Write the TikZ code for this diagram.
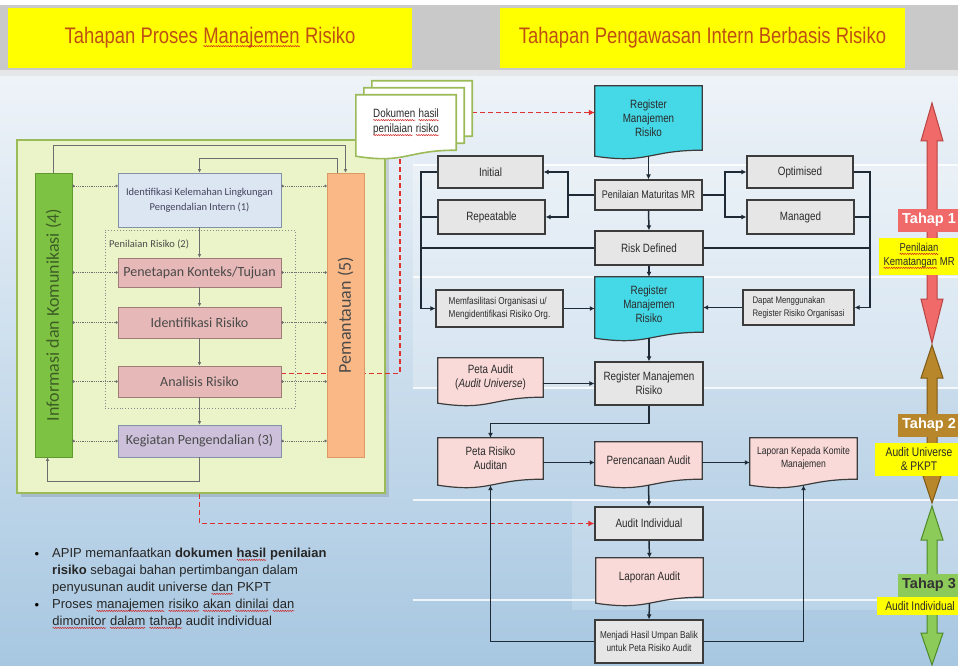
\documentclass[tikz,border=0pt]{standalone}
\usepackage{fontspec}
\setmainfont{Liberation Sans}
\newfontfamily\narrowf[FakeStretch=0.82]{Liberation Sans}
\newfontfamily\calib{Carlito}
\usetikzlibrary{arrows.meta,calc,decorations.pathmorphing}
\pgfdeclarelayer{bg}\pgfdeclarelayer{mid}\pgfsetlayers{bg,mid,main}
\definecolor{hdrgray}{HTML}{C9C9C9}
\definecolor{hdrlight}{HTML}{E4E6E8}
\definecolor{hdrtxt}{RGB}{190,80,20}
\definecolor{yel}{HTML}{FFFF00}
\definecolor{bgtop}{HTML}{EEF3F8}
\definecolor{bgbot}{HTML}{A7C7E1}
\definecolor{panelfill}{HTML}{EAF4C8}
\definecolor{panelline}{HTML}{9BBB59}
\definecolor{infofill}{HTML}{7DC243}
\definecolor{infoline}{HTML}{5E9A2E}
\definecolor{infotxt}{HTML}{3E5E26}
\definecolor{orfill}{HTML}{FAB887}
\definecolor{orline}{HTML}{DE9866}
\definecolor{bluefill}{HTML}{DCE6F2}
\definecolor{blueline}{HTML}{8391A6}
\definecolor{pinkL}{HTML}{E6B8B7}
\definecolor{pinkLline}{HTML}{9E7C7A}
\definecolor{purpfill}{HTML}{CCC0DA}
\definecolor{lgray}{HTML}{6E6E6E}
\definecolor{ltxt}{HTML}{4A4A4A}
\definecolor{cyanfill}{HTML}{45D8E6}
\definecolor{boxgray}{HTML}{E6E6E6}
\definecolor{boxline}{HTML}{3C3C3C}
\definecolor{pinkR}{HTML}{F9DAD8}
\definecolor{conc}{HTML}{1E2A36}
\definecolor{rdash}{HTML}{E03030}
\definecolor{redA}{HTML}{F06A6A}
\definecolor{redB}{HTML}{B84444}
\definecolor{brownA}{HTML}{B8862B}
\definecolor{brownB}{HTML}{7E5A18}
\definecolor{greenA}{HTML}{8CCB5A}
\definecolor{greenB}{HTML}{4E8A2A}
\definecolor{rtxt}{HTML}{2A2A2A}
\definecolor{squig}{HTML}{D02020}
\newcommand\docshape[2]{%
 \path[#2] let \p1=(#1.south west), \p2=(#1.north east) in
 (\x1,\y2) -- (\x2,\y2) -- (\x2,\y1) .. controls ({(\x1+\x2)/2},\y1) and ({(\x1+\x2)/2},\y1-14pt) .. (\x1,\y1-6pt) -- cycle;}
\newcommand\sq[1]{\tikz[baseline=(sqw.base)]{\node[inner sep=0pt, outer sep=0pt, minimum width=0pt, minimum height=0pt, draw=none, fill=none, anchor=base, rotate=0] (sqw) {#1}; \draw[squig, line width=0.5pt, decorate, decoration={snake, amplitude=0.6pt, segment length=2.4pt}] ([yshift=-2.3pt]sqw.base west) -- ([yshift=-2.3pt]sqw.base east);}}
\tikzset{
 hdr/.style={fill=yel, minimum height=60pt, text=hdrtxt, font=\narrowf\fontsize{22.5}{24}\selectfont},
 panel/.style={fill=panelfill, draw=panelline, line width=2pt, minimum width=368pt, minimum height=353pt},
 lbar/.style={minimum width=37pt, minimum height=284pt, line width=0.8pt, inner sep=0pt, font=\calib\fontsize{18}{20}\selectfont},
 lbox/.style={minimum width=163pt, line width=0.8pt, inner sep=1pt, align=center, text=ltxt, font=\calib\fontsize{14}{16}\selectfont},
 ldot/.style={draw=lgray, densely dotted, line width=0.8pt, {Circle[length=2.4pt]}-{Circle[length=2.4pt]}},
 lflow/.style={draw=lgray, line width=0.8pt, -{Latex[length=3.5pt,width=3.5pt]}},
 rbox/.style={draw=boxline, line width=1.2pt, fill=boxgray, text=rtxt, align=center, inner sep=1pt, font=\narrowf\fontsize{12}{14}\selectfont},
 rdoc/.style={text=rtxt, align=center, inner sep=1pt, font=\narrowf\fontsize{12}{14}\selectfont},
 docdraw/.style={draw=boxline, line width=1.2pt},
 cline/.style={draw=conc, line width=1.5pt},
 conn/.style={cline, -{Latex[length=5pt,width=5pt]}},
 rdl/.style={draw=rdash, dashed, dash pattern=on 5pt off 3pt, line width=1.3pt},
 tahap/.style={anchor=west, minimum height=23pt, inner xsep=4pt, font=\bfseries\fontsize{14.5}{16}\selectfont},
 ylab/.style={fill=yel, text=rtxt, align=center, inner sep=2pt, font=\narrowf\fontsize{12.5}{14}\selectfont},
 bul/.style={anchor=north west, align=left, text=black!85, inner sep=0pt, font=\fontsize{13}{17}\selectfont}
}
\begin{document}
\begin{tikzpicture}[x=1pt,y=-1pt]
\clip (0,0) rectangle (958,666);
\begin{pgfonlayer}{bg}
\fill[white] (0,0) rectangle (958,666);
\fill[hdrgray] (0,5) rectangle (958,70);
\fill[hdrlight] (0,70) rectangle (958,77);
\shade[top color=bgtop, bottom color=bgbot] (0,77) rectangle (958,666);
\fill[white,opacity=0.25] (413,165) rectangle (958,388);
\fill[white,opacity=0.18] (572,500) rectangle (958,610);
\foreach \yy in {165,277,388,500,600} \draw[white,opacity=.8,line width=1.5pt] (413,\yy) -- (958,\yy);
\fill[black,opacity=.12] (21,145) rectangle (389,497);
\node[panel] (panel) at (201,316.5) {};
\end{pgfonlayer}

% headers
\node[hdr, minimum width=404pt] (h1) at (210,38) {Tahapan Proses \sq{Manajemen} Risiko};
\node[hdr, minimum width=405pt] (h2) at (702.5,38) {Tahapan Pengawasan Intern Berbasis Risiko};

% left panel
\node[draw=lgray!80, dotted, line width=0.9pt, minimum width=190pt, minimum height=178pt] (grp) at (200,319) {};
\node[anchor=west, inner sep=0pt, text=ltxt, font=\calib\fontsize{10.5}{12}\selectfont] (grplbl) at (109,244) {Penilaian Risiko (2)};
\node[lbar, fill=infofill, draw=infoline, text=infotxt] (info) at (53.5,315) {\rotatebox{90}{Informasi dan Komunikasi (4)}};
\node[lbar, fill=orfill, draw=orline, text=ltxt] (orng) at (345.5,315) {\rotatebox{90}{Pemantauan (5)}};
\node[lbox, fill=bluefill, draw=blueline, minimum height=54pt, text=ltxt!90!blue, font=\calib\fontsize{10.5}{15}\selectfont] (box1) at (199.5,200) {Identifikasi Kelemahan Lingkungan\\Pengendalian Intern (1)};
\node[lbox, fill=pinkL, draw=pinkLline, minimum height=29pt] (pen) at (199.5,272.5) {Penetapan Konteks/Tujuan};
\node[lbox, fill=pinkL, draw=pinkLline, minimum height=31pt] (idr) at (199.5,322.5) {Identifikasi Risiko};
\node[lbox, fill=pinkL, draw=pinkLline, minimum height=31pt] (ana) at (199.5,381.5) {Analisis Risiko};
\node[lbox, fill=purpfill, draw=blueline, minimum height=32pt] (keg) at (199.5,441) {Kegiatan Pengendalian (3)};

\draw[ldot] ([yshift=14pt]box1.west -| info.east) -- ([yshift=14pt]box1.west);
\draw[ldot] ([yshift=14pt]box1.east) -- ([yshift=14pt]box1.east -| orng.west);
\foreach \n in {pen,idr,ana,keg}{
 \draw[ldot] (\n.west -| info.east) -- (\n.west);
 \draw[ldot] (\n.east) -- (\n.east -| orng.west);
}
\draw[lflow] (box1.south) -- (pen.north);
\draw[lflow] (pen.south) -- (idr.north);
\draw[lflow] (idr.south) -- (ana.north);
\draw[lflow] (ana.south) -- (keg.north);
\draw[lflow] (info.north) -- ([yshift=27pt]info.north) -| (orng.north);
\draw[lflow] ([xshift=-8pt]orng.north) -- ++(0,-14) -| (box1.north);
\draw[lflow] (keg.south) -- ++(0,24) -| ([xshift=-6pt]info.south);

% document stack
\node[minimum width=100pt, minimum height=55pt, inner sep=0pt] (docb2) at (422,108.5) {};
\node[minimum width=100pt, minimum height=55pt, inner sep=0pt] (docb1) at (414,115.5) {};
\node[rdoc, minimum width=100pt, minimum height=55pt, font=\narrowf\fontsize{12}{15}\selectfont] (dok) at (406,122.5) {\sq{Dokumen} \sq{hasil}\\\sq{penilaian} \sq{risiko}};
\coordinate (rdtop) at (400,156);

% right flowchart
\node[rdoc, minimum width=107pt, minimum height=64pt] (reg1) at (648.5,118) {Register\\Manajemen\\Risiko};
\node[rbox, minimum width=105pt, minimum height=32pt] (initial) at (490.5,172) {Initial};
\node[rbox, minimum width=107pt, minimum height=34pt] (repeat) at (491.5,217) {Repeatable};
\node[rbox, minimum width=107pt, minimum height=30pt, font=\narrowf\fontsize{11}{12}\selectfont] (penil) at (648.5,195) {Penilaian Maturitas MR};
\node[rbox, minimum width=106pt, minimum height=32pt] (optim) at (800,172) {Optimised};
\node[rbox, minimum width=107pt, minimum height=34pt] (managed) at (800.5,217) {Managed};
\node[rbox, minimum width=108pt, minimum height=34pt] (riskdef) at (649,248) {Risk Defined};
\node[rdoc, minimum width=108pt, minimum height=55pt] (reg2) at (649,304.5) {Register\\Manajemen\\Risiko};
\node[rbox, minimum width=127pt, minimum height=37pt, align=left, font=\narrowf\fontsize{10}{12.5}\selectfont] (memf) at (499.5,308.5) {Memfasilitasi Organisasi u/\\Mengidentifikasi Risiko Org.};
\node[rbox, minimum width=111pt, minimum height=35pt, align=left, font=\narrowf\fontsize{9.5}{12.5}\selectfont] (dapat) at (798.5,307.5) {Dapat Menggunakan\\Register Risiko Organisasi};
\node[rbox, minimum width=108pt, minimum height=43pt] (regbox) at (649,383.5) {Register Manajemen\\Risiko};
\node[rdoc, minimum width=105pt, minimum height=39pt] (peta) at (490.5,377.5) {Peta Audit\\(\textit{Audit  Universe})};
\node[rdoc, minimum width=105pt, minimum height=41pt] (petarisk) at (490.5,458.5) {Peta Risiko\\Auditan};
\node[rdoc, minimum width=107pt, minimum height=37pt] (peren) at (648.5,460.5) {Perencanaan Audit};
\node[rdoc, minimum width=107pt, minimum height=41pt, font=\narrowf\fontsize{10.5}{13}\selectfont] (lapkom) at (803.5,458.5) {Laporan Kepada Komite\\Manajemen};
\node[rbox, minimum width=108pt, minimum height=33pt] (auditind) at (649,523.5) {Audit Individual};
\node[rdoc, minimum width=107pt, minimum height=39pt] (lapaudit) at (649.5,577.5) {Laporan Audit};
\node[rbox, minimum width=108pt, minimum height=43pt, font=\narrowf\fontsize{10}{13}\selectfont] (menjadi) at (649,641.5) {Menjadi Hasil Umpan Balik\\untuk Peta Risiko Audit};

\begin{pgfonlayer}{mid}
\draw[rdl] ([yshift=8pt]ana.east) -| (rdtop);
\draw[rdl, -{Latex[length=6pt,width=6pt]}] (panel.south -| keg.south) |- (auditind.west);
\draw[rdl, -{Latex[length=6pt,width=6pt]}] ([yshift=-4pt]docb2.east) -- ([yshift=-4pt]docb2.east -| reg1.west);
\docshape{docb2}{fill=white, draw=panelline, line width=1.6pt}
\docshape{docb1}{fill=white, draw=panelline, line width=1.6pt}
\docshape{dok}{fill=white, draw=panelline, line width=1.6pt}
\docshape{reg1}{docdraw, fill=cyanfill}
\docshape{reg2}{docdraw, fill=cyanfill}
\docshape{peta}{docdraw, fill=pinkR}
\docshape{petarisk}{docdraw, fill=pinkR}
\docshape{peren}{docdraw, fill=pinkR}
\docshape{lapkom}{docdraw, fill=pinkR}
\docshape{lapaudit}{docdraw, fill=pinkR}
\end{pgfonlayer}

\coordinate (jl) at (568,195);
\coordinate (jr) at (725,195);
\coordinate (bl1) at (421,172);
\coordinate (bl2) at (421,308.5);
\coordinate (br1) at (870,172);
\coordinate (br2) at (870,307.5);
\draw[conn] ([yshift=-6pt]reg1.south) -- (penil.north);
\draw[cline] (penil.west) -- (jl);
\draw[conn] (jl) |- (initial.east);
\draw[conn] (jl) |- (repeat.east);
\draw[cline] (penil.east) -- (jr);
\draw[conn] (jr) |- (optim.west);
\draw[conn] (jr) |- (managed.west);
\draw[cline] (initial.west) -- (bl1) -- (bl2);
\draw[conn] (bl2) -- (memf.west);
\draw[cline] (repeat.west) -- (repeat.west -| bl1);
\draw[cline] (riskdef.west) -- (riskdef.west -| bl1);
\draw[cline] (optim.east) -- (br1) -- (br2);
\draw[conn] (br2) -- (dapat.east);
\draw[cline] (managed.east) -- (managed.east -| br1);
\draw[cline] (riskdef.east) -- (riskdef.east -| br1);
\draw[conn] (penil.south) -- (riskdef.north);
\draw[conn] (riskdef.south) -- (reg2.north);
\draw[conn] (memf.east) -- (memf.east -| reg2.west);
\draw[conn] (dapat.west) -- (dapat.west -| reg2.east);
\draw[conn] ([yshift=-6pt]reg2.south) -- (regbox.north);
\draw[conn] (peta.east |- regbox.west) -- (regbox.west);
\draw[conn] (regbox.south) -- ++(0,18) -| (petarisk.north);
\draw[conn] ([yshift=-4pt]petarisk.east) -- ([yshift=-4pt]petarisk.east -| peren.west);
\draw[conn] ([yshift=-2pt]peren.east) -- ([yshift=-2pt]peren.east -| lapkom.west);
\draw[conn] ([yshift=-6pt]peren.south) -- (auditind.north);
\draw[conn] (auditind.south) -- (lapaudit.north);
\draw[conn] ([yshift=-6pt]lapaudit.south) -- (menjadi.north);
\draw[conn] (menjadi.west) -| ([yshift=-6pt]petarisk.south);
\draw[conn] (menjadi.east) -| ([yshift=-6pt]lapkom.south);

% stage arrows
\filldraw[fill=redA, draw=redB, line width=1pt] (932,103) -- (943,141) -- (937,141) -- (937,299) -- (943,299) -- (932,343) -- (921,299) -- (927,299) -- (927,141) -- (921,141) -- cycle;
\filldraw[fill=brownA, draw=brownB, line width=1pt] (932,345) -- (943,378) -- (937,378) -- (937,470) -- (943,470) -- (932,503) -- (921,470) -- (927,470) -- (927,378) -- (921,378) -- cycle;
\filldraw[fill=greenA, draw=greenB, line width=1pt] (932,506) -- (943,540) -- (937,540) -- (937,633) -- (943,633) -- (932,665) -- (921,633) -- (927,633) -- (927,540) -- (921,540) -- cycle;
\node[tahap, fill=redA, text=white] (t1) at (898,220) {Tahap 1};
\node[ylab, minimum width=80pt, minimum height=37pt, inner xsep=1pt, font=\narrowf\fontsize{11.5}{14}\selectfont] (l1) at (919,256) {\sq{Penilaian}\\\sq{Kematangan} MR};
\node[tahap, fill=brownA, text=white] (t2) at (898,425) {Tahap 2};
\node[ylab, minimum width=88pt, minimum height=33pt] (l2) at (919,459) {Audit Universe\\\& PKPT};
\node[tahap, fill=greenA, text=black!80] (t3) at (898,585) {Tahap 3};
\node[ylab, minimum width=86pt, minimum height=18pt, font=\narrowf\fontsize{12.5}{14}\selectfont] (l3) at (920,606) {Audit Individual};

% bullets
\node[inner sep=0pt, font=\fontsize{13}{15}\selectfont] (d1) at (37,555) {•};
\node[bul] (b1) at (52,548) {APIP memanfaatkan \textbf{dokumen \sq{hasil} penilaian}\\\textbf{risiko} sebagai bahan pertimbangan dalam\\penyusunan audit universe \sq{dan} PKPT};
\node[inner sep=0pt, font=\fontsize{13}{15}\selectfont] (d2) at (37,606) {•};
\node[bul] (b2) at (52,599) {Proses \sq{manajemen} \sq{risiko} \sq{akan} \sq{dinilai} \sq{dan}\\\sq{dimonitor} \sq{dalam} \sq{tahap} audit individual};
\end{tikzpicture}
\end{document}
